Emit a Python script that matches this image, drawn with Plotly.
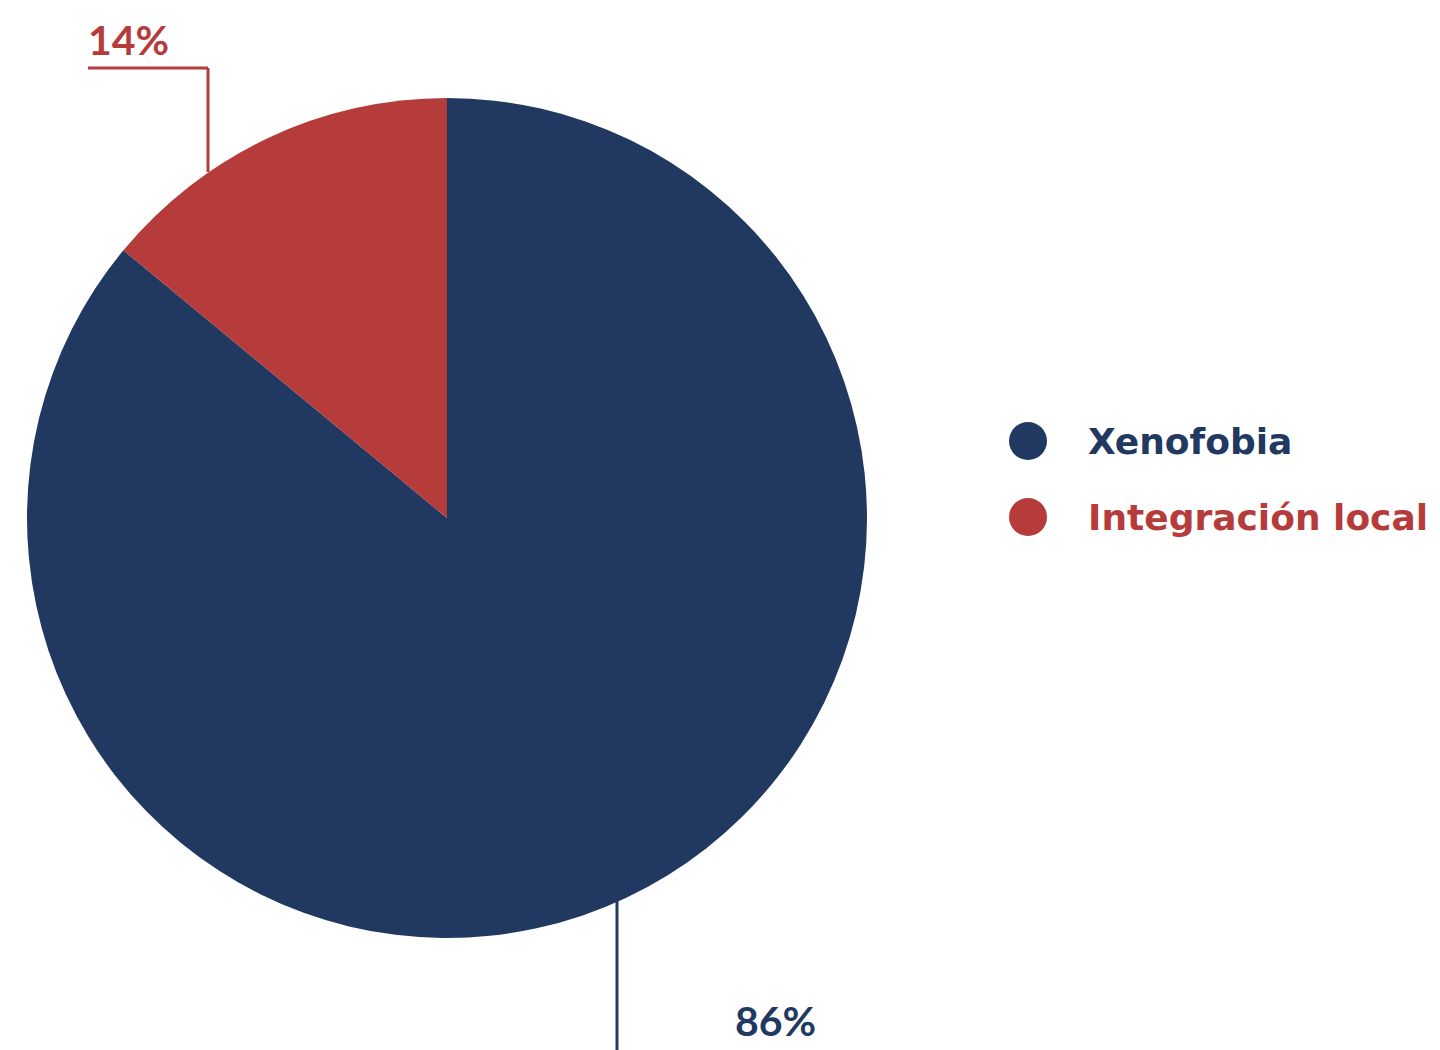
import plotly.graph_objects as go

categories = ["Xenofobia", "Integración local"]
values = [86, 14]
label_text = ["86%", "14%"]
colors = ["#213961", "#b53c3a"]

# page has an 8px body margin; figure is sized to fit the window
OFF = 8
W, H = 1432, 1042
LEG_FONT = "DejaVu Sans"
PCT_FONT = "Lato"

def px(x):
    return (x - OFF) / W

def py(y):
    return 1 - (y - OFF) / H

fig = go.Figure()
fig.add_trace(go.Pie(
    labels=categories, values=values, sort=False, direction="clockwise",
    rotation=0, marker=dict(colors=colors, line=dict(width=0)),
    textinfo="none", hoverinfo="label+percent", showlegend=False,
    domain=dict(x=[px(27), px(867)], y=[py(938), py(98)]),
))

shapes = []
annotations = []

# leader line for Integración local (red)
shapes.append(dict(type="line", xref="paper", yref="paper",
                   x0=px(208), y0=py(172), x1=px(208), y1=py(68),
                   line=dict(color=colors[1], width=3)))
shapes.append(dict(type="line", xref="paper", yref="paper",
                   x0=px(208), y0=py(68), x1=px(88), y1=py(68),
                   line=dict(color=colors[1], width=3)))
annotations.append(dict(x=px(86), y=py(40), xref="paper", yref="paper",
                        text="<b>%s</b>" % label_text[1], showarrow=False,
                        xanchor="left", yanchor="middle",
                        font=dict(family=PCT_FONT, size=41, color=colors[1])))

# leader line for Xenofobia (blue)
shapes.append(dict(type="line", xref="paper", yref="paper",
                   x0=px(617), y0=py(900), x1=px(617), y1=py(1052),
                   line=dict(color=colors[0], width=3)))
annotations.append(dict(x=px(733), y=py(1020), xref="paper", yref="paper",
                        text="<b>%s</b>" % label_text[0], showarrow=False,
                        xanchor="left", yanchor="middle",
                        font=dict(family=PCT_FONT, size=41, color=colors[0])))

# custom legend
legend_y = [441, 517]
for i, cat in enumerate(categories):
    cy = legend_y[i]
    shapes.append(dict(type="circle", xref="paper", yref="paper",
                       x0=px(1009), x1=px(1047), y0=py(cy - 19), y1=py(cy + 19),
                       fillcolor=colors[i], line=dict(width=0)))
    annotations.append(dict(x=px(1086), y=py(cy), xref="paper", yref="paper",
                            text="<b>%s</b>" % cat, showarrow=False,
                            xanchor="left", yanchor="middle",
                            font=dict(family=LEG_FONT, size=36, color=colors[i])))

fig.update_layout(
    width=W, height=H, margin=dict(l=0, r=0, t=0, b=0),
    paper_bgcolor="white", plot_bgcolor="white",
    shapes=shapes, annotations=annotations,
)

fig.write_html("out.html")
